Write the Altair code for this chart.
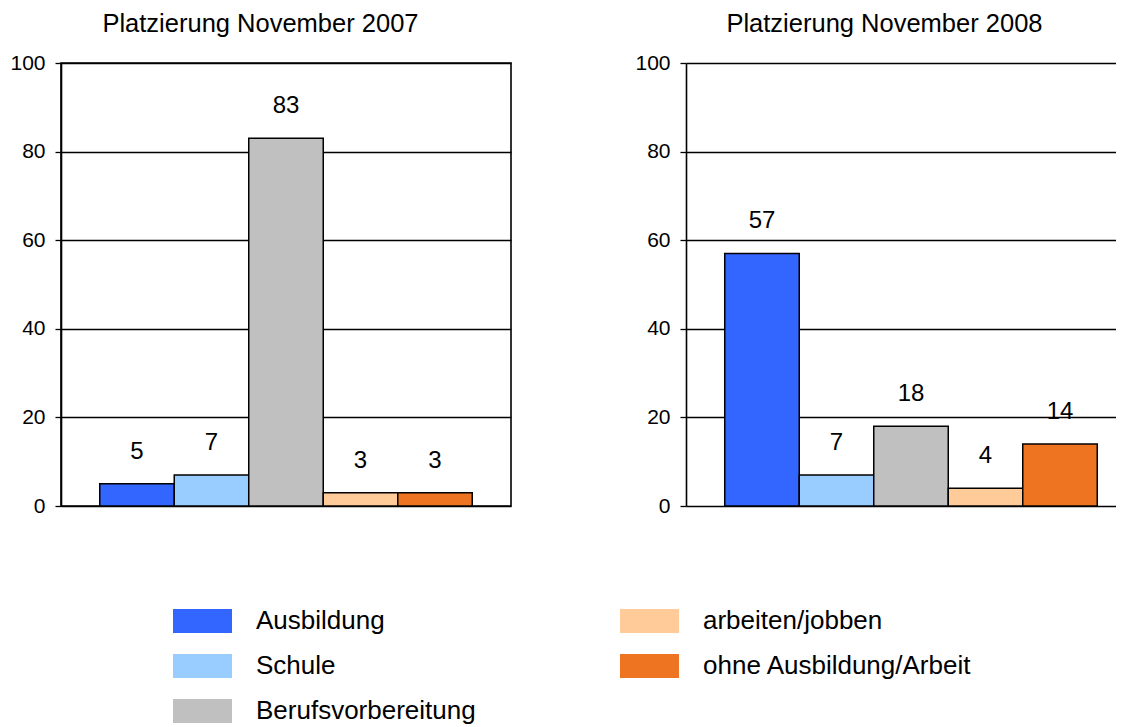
import altair as alt
import pandas as pd

categories = ["Ausbildung", "Schule", "Berufsvorbereitung", "arbeiten/jobben", "ohne Ausbildung/Arbeit"]
values_2007 = [5, 7, 83, 3, 3]
values_2008 = [57, 7, 18, 4, 14]
titles = ["Platzierung November 2007", "Platzierung November 2008"]
y_ticks = [0, 20, 40, 60, 80, 100]

bar_colors = ["#3366FF", "#99CCFF", "#C0C0C0", "#FFCC99", "#EE7422"]
legend_colors = ["#2A5BE6", "#82AEFF", "#B6BABE", "#FFD0A6", "#FF6A12"]

FONT = "Liberation Sans"


def panel(values, title, width, framed, title_dx):
    df = pd.DataFrame({"cat": categories, "val": values})
    x = alt.X("cat:N", sort=categories, axis=None,
              scale=alt.Scale(paddingInner=0, paddingOuter=0.52, range=[0, 450]))
    y = alt.Y("val:Q", scale=alt.Scale(domain=[0, 100], nice=False),
              axis=alt.Axis(values=y_ticks, title=None, grid=True, gridColor="black",
                            gridWidth=1.3, gridOpacity=1, domainColor="black", domainWidth=1.6,
                            tickColor="black", tickSize=6, tickWidth=1.3,
                            labelFontSize=21, labelPadding=10, labelColor="black",
                            labelFont=FONT))
    bars = alt.Chart(df).mark_bar(stroke="black", strokeWidth=1.5).encode(
        x=x, y=y,
        color=alt.Color("cat:N", scale=alt.Scale(domain=categories, range=bar_colors), legend=None),
    )
    text = alt.Chart(df).mark_text(dy=-32, fontSize=24, baseline="middle", font=FONT,
                                   color="black").encode(x=x, y=y, text="val:Q")
    return alt.layer(bars, text).properties(
        width=width, height=443,
        title=alt.TitleParams(title, fontSize=25.5, font=FONT, fontWeight="normal",
                              color="black", offset=15, frame="bounds", dx=title_dx),
        view=alt.ViewBackground(stroke="black", strokeWidth=1.6 if framed else 0),
    )


leg_df = pd.DataFrame({
    "cat": categories,
    "col": [i // 3 for i in range(len(categories))],
    "row": [i % 3 for i in range(len(categories))],
})
lx = alt.X("col:Q", axis=None, scale=alt.Scale(domain=[0, 1], range=[141.5, 588.5]))
ly = alt.Y("row:Q", axis=None, scale=alt.Scale(domain=[0, 2], range=[16, 106]))
swatch_path = "M-1,-0.4068 L1,-0.4068 L1,0.4068 L-1,0.4068 Z"
swatches = alt.Chart(leg_df).mark_point(filled=True, shape=swatch_path, size=3481,
                                        opacity=1, strokeWidth=0).encode(
    x=lx, y=ly,
    color=alt.Color("cat:N", scale=alt.Scale(domain=categories, range=legend_colors), legend=None),
)
leg_text = alt.Chart(leg_df).mark_text(align="left", baseline="middle", dx=53.5, fontSize=26,
                                       font=FONT, color="black").encode(x=lx, y=ly, text="cat:N")
legend_chart = alt.layer(swatches, leg_text).properties(
    width=900, height=110,
    view=alt.ViewBackground(strokeWidth=0),
)

top = alt.hconcat(panel(values_2007, titles[0], 450, True, 0),
                  panel(values_2008, titles[1], 430, False, 9), spacing=122)
chart = alt.vconcat(top, legend_chart, spacing=88).properties(
    padding={"left": 1, "top": 2, "right": 0, "bottom": 0}
).configure_view(strokeWidth=0).configure(font=FONT)

chart.save("out.html", embed_options={"renderer": "svg", "actions": False})
